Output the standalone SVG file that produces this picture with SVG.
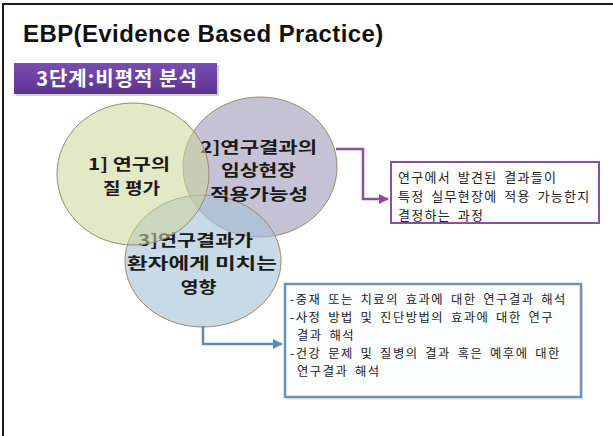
<svg xmlns="http://www.w3.org/2000/svg" width="613" height="436" viewBox="0 0 613 436">
  <defs>
    <linearGradient id="bannerGrad" x1="0" y1="0" x2="0" y2="1">
      <stop offset="0" stop-color="#7a4db2"/>
      <stop offset="1" stop-color="#5c3391"/>
    </linearGradient>
    <marker id="arrPurple" viewBox="0 0 10 10" refX="9" refY="5" markerWidth="4" markerHeight="4" orient="auto" markerUnits="strokeWidth">
      <path d="M0,0 L10,5 L0,10 z" fill="#8c4f9f"/>
    </marker>
    <marker id="arrBlue" viewBox="0 0 10 10" refX="9" refY="5" markerWidth="4" markerHeight="4" orient="auto" markerUnits="strokeWidth">
      <path d="M0,0 L10,5 L0,10 z" fill="#5f8db2"/>
    </marker>
  </defs>
  <style>
    .title { font-family: "Liberation Sans", Arial, sans-serif; font-weight: bold; font-size: 24px; fill: #111; }
    .banner { font-family: "Noto Sans CJK KR", "Noto Sans", sans-serif; font-weight: bold; font-size: 20px; fill: #ffffff; letter-spacing: 1px; }
    .ctext { font-family: "Noto Sans CJK KR", "Noto Sans", sans-serif; font-weight: bold; font-size: 16px; fill: #1a1a1a; text-anchor: middle; }
    .ptext { font-family: "Noto Sans CJK KR", "Noto Sans", sans-serif; font-size: 13px; fill: #222; letter-spacing: 1.3px; word-spacing: 2.5px; }
    .btext { font-family: "Noto Sans CJK KR", "Noto Sans", sans-serif; font-size: 12.3px; fill: #222; letter-spacing: 1.5px; word-spacing: 2.5px; }
    .circ { stroke: #9a8a6c; stroke-width: 1; }
  </style>
  <rect x="0" y="0" width="613" height="436" fill="#ffffff"/>
  <path d="M2,4 H613 M3,4 V436" fill="none" stroke="#1e1e1e" stroke-width="2"/>

  <text class="title" x="23" y="42" letter-spacing="0.4">EBP(Evidence Based Practice)</text>

  <g id="banner">
    <rect x="16" y="65" width="203" height="31" fill="#9a9a9a" opacity="0.45"/>
    <rect x="14" y="63" width="203" height="31" fill="url(#bannerGrad)"/>
    <text class="banner" x="117" y="86" text-anchor="middle">3단계:비평적 분석</text>
  </g>

  <g id="circle2">
    <ellipse class="circ" cx="260" cy="167" rx="77" ry="70" fill="#aba8c2" fill-opacity="0.7"/>
  </g>
  <g id="circle3">
    <ellipse class="circ" cx="203" cy="261" rx="78" ry="66" fill="#a5c1d7" fill-opacity="0.6"/>
  </g>
  <g id="circle2-label">
    <text class="ctext" x="258.5" y="152.5" textLength="117" lengthAdjust="spacingAndGlyphs">2]연구결과의</text>
    <text class="ctext" x="258.5" y="176" textLength="75" lengthAdjust="spacingAndGlyphs">임상현장</text>
    <text class="ctext" x="259" y="199.5" textLength="98" lengthAdjust="spacingAndGlyphs">적용가능성</text>
  </g>
  <g id="circle3-label">
    <text class="ctext" x="195.5" y="245.5" textLength="115" lengthAdjust="spacingAndGlyphs">3]연구결과가</text>
    <text class="ctext" x="202" y="269" textLength="150" lengthAdjust="spacingAndGlyphs">환자에게 미치는</text>
    <text class="ctext" x="198.5" y="292.5" textLength="36" lengthAdjust="spacingAndGlyphs">영향</text>
  </g>
  <g id="circle1">
    <ellipse class="circ" cx="133" cy="174" rx="76" ry="71" fill="#ccd599" fill-opacity="0.55"/>
    <text class="ctext" x="129" y="170.25" textLength="82" lengthAdjust="spacingAndGlyphs">1] 연구의</text>
    <text class="ctext" x="131.5" y="193.75" textLength="57" lengthAdjust="spacingAndGlyphs">질 평가</text>
  </g>

  <g id="connectors" fill="none" stroke-width="2.5">
    <path d="M336,149 H363 V199 H388" stroke="#8c4f9f" marker-end="url(#arrPurple)"/>
    <path d="M203,326 V344 H282" stroke="#5f8db2" marker-end="url(#arrBlue)"/>
  </g>

  <g id="box-purple">
    <rect x="391" y="162" width="208" height="61" fill="#ffffff" stroke="#8c4f9f" stroke-width="2"/>
    <text class="ptext" x="398" y="182">연구에서 발견된 결과들이</text>
    <text class="ptext" x="398" y="201">특정 실무현장에 적용 가능한지</text>
    <text class="ptext" x="398" y="220">결정하는 과정</text>
  </g>

  <g id="box-blue">
    <rect x="287" y="286" width="296" height="114" fill="#c8c8c8" opacity="0.35"/>
    <rect x="285" y="284" width="296" height="113" fill="#fbfdfe" stroke="#6b93b5" stroke-width="2.5"/>
    <text class="btext" x="290" y="304">-중재 또는 치료의 효과에 대한 연구결과 해석</text>
    <text class="btext" x="290" y="322">-사정 방법 및 진단방법의 효과에 대한 연구</text>
    <text class="btext" x="297" y="340">결과 해석</text>
    <text class="btext" x="290" y="358">-건강 문제 및 질병의 결과 혹은 예후에 대한</text>
    <text class="btext" x="297" y="376">연구결과 해석</text>
  </g>
</svg>
